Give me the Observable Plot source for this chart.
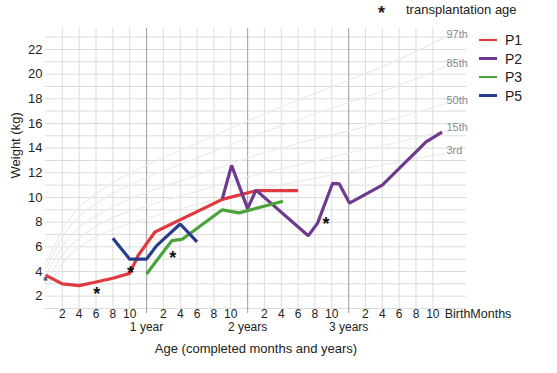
<!DOCTYPE html>
<html>
<head>
<meta charset="utf-8">
<script src="https://cdn.jsdelivr.net/npm/d3@7"></script>
<script src="https://cdn.jsdelivr.net/npm/@observablehq/plot@0.6"></script>
<style>
  html, body { margin: 0; padding: 0; background: #fff; }
  #wrap { position: relative; width: 557px; height: 373px; font-family: "Liberation Sans", Arial, sans-serif; color: #222; }
  #wrap svg { position: absolute; left: 0; top: 0; }
  .lg { position: absolute; font-size: 14px; line-height: 14px; }
  .sw { position: absolute; width: 18px; height: 2.5px; }
</style>
</head>
<body>
<div id="wrap"></div>
<script>
// ---- Data ----
const seriesNames = ["P1", "P2", "P3", "P5"];
const seriesColors = ["#e0393e", "#6d3a8e", "#4aa33a", "#283c8c"];

const p1Age = [0, 2, 4, 6, 8, 10, 11, 13, 21, 25, 30];
const p1Wt  = [3.7, 3.0, 2.85, 3.15, 3.45, 3.85, 5.3, 7.2, 9.85, 10.55, 10.55];
const p2Age = [21, 22.1, 24, 25, 31.2, 32.3, 34.1, 34.9, 36.1, 40, 45.2, 47.1];
const p2Wt  = [9.9, 12.6, 9.1, 10.6, 6.9, 7.9, 11.15, 11.1, 9.55, 11.0, 14.5, 15.3];
const p3Age = [12, 15, 16.2, 21, 23, 28.2];
const p3Wt  = [3.8, 6.5, 6.6, 9.0, 8.75, 9.7];
const p5Age = [8, 10, 12, 13.2, 16, 18];
const p5Wt  = [6.7, 5.0, 5.0, 6.1, 7.85, 6.4];

// transplantation age markers
const starAge = [6.1, 10.1, 15.1, 33.3];
const starWt  = [2.55, 4.3, 5.5, 8.2];

// starting marker
const startAge = [0];
const startWt = [3.4];

// reference percentile curves
const pctNames = ["3rd", "15th", "50th", "85th", "97th"];
const pctAge = [0, 1, 2, 4, 6, 9, 12, 18, 24, 30, 36, 42, 47.5];
const pct3   = [2.65, 3.6, 4.65, 5.95, 6.8, 7.65, 8.3, 9.45, 10.4, 11.3, 12.1, 12.9, 13.6];
const pct15  = [3.1, 4.2, 5.3, 6.7, 7.65, 8.65, 9.3, 10.5, 11.65, 12.65, 13.6, 14.5, 15.4];
const pct50  = [3.6, 4.9, 6.0, 7.6, 8.5, 9.6, 10.4, 11.8, 13.2, 14.4, 15.4, 16.5, 17.6];
const pct85  = [4.2, 5.5, 6.8, 8.5, 9.5, 10.7, 11.6, 13.2, 14.8, 16.3, 17.7, 19.1, 20.6];
const pct97  = [4.6, 6.0, 7.4, 9.2, 10.3, 11.6, 12.6, 14.4, 16.2, 17.9, 19.5, 21.2, 23.0];

// axes
const yTicks = [2, 4, 6, 8, 10, 12, 14, 16, 18, 20, 22];
const monthTicks = [2,4,6,8,10, 14,16,18,20,22, 26,28,30,32,34, 38,40,42,44,46];
const monthLabels = ["2","4","6","8","10","2","4","6","8","10","2","4","6","8","10","2","4","6","8","10"];
const yearTicks = [12, 24, 36];
const yearLabels = ["1 year", "2 years", "3 years"];
const endTick = [48];
const endLabel = ["BirthMonths"];
const xTitle = "Age (completed months and years)";
const yTitle = "Weight (kg)";
const starLegend = "transplantation age";

// ---- Build tables ----
const zipS = (name, a, w) => a.map((x, i) => ({name, age: x, wt: w[i]}));
const series = [
  ...zipS("P1", p1Age, p1Wt),
  ...zipS("P2", p2Age, p2Wt),
  ...zipS("P3", p3Age, p3Wt),
  ...zipS("P5", p5Age, p5Wt)
];
const pctVals = [pct3, pct15, pct50, pct85, pct97];
const pct = pctNames.flatMap((n, k) => pctAge.map((a, i) => ({name: n, age: a, wt: pctVals[k][i]})));
const pctEnds = pctNames.map((n, k) => ({name: n, age: pctAge[pctAge.length - 1], wt: pctVals[k][pctAge.length - 1]}));
const stars = starAge.map((a, i) => ({age: a, wt: starWt[i]}));
const minorX = d3.range(0, 50, 2).filter(m => m % 12 !== 0);
const gridY = d3.range(1, 24);

const font = "'Liberation Sans', Arial, sans-serif";

const chart = Plot.plot({
  width: 557,
  height: 373,
  marginLeft: 45,
  marginRight: 91,
  marginTop: 28,
  marginBottom: 65,
  style: {fontFamily: font, background: "transparent", overflow: "visible"},
  x: {domain: [0, 50], axis: null},
  y: {domain: [1, 23.7], axis: null},
  color: {domain: seriesNames, range: seriesColors},
  marks: [
    Plot.ruleY(gridY, {stroke: "#dcdcdc", strokeWidth: 1}),
    Plot.ruleX(minorX, {stroke: "#dcdcdc", strokeWidth: 1}),
    Plot.ruleX(yearTicks, {stroke: "#ababab", strokeWidth: 1.2, insetBottom: -5}),
    Plot.line(pct, {x: "age", y: "wt", z: "name", stroke: "#ebebeb", strokeWidth: 1.2, curve: "monotone-x"}),
    Plot.text(pctEnds, {x: "age", y: "wt", text: "name", textAnchor: "start", dx: 1, dy: -3, fill: "#8a8a8a", fontSize: 11}),
    Plot.line(series, {x: "age", y: "wt", z: "name", stroke: "name", strokeWidth: 3.2, strokeLinejoin: "miter", strokeLinecap: "butt"}),
    Plot.dot(startAge.map((a, i) => ({age: a, wt: startWt[i]})), {x: "age", y: "wt", r: 2, fill: "#5a6070", symbol: "square"}),
    Plot.text(stars, {x: "age", y: "wt", text: () => "*", fontSize: 18, fontWeight: "bold", fill: "#111", dy: 5}),
    // y tick labels
    Plot.text(yTicks, {y: d => d, frameAnchor: "left", text: d => String(d), textAnchor: "end", dx: -3, fontSize: 13, fill: "#222"}),
    // x tick labels
    Plot.text(monthTicks, {x: d => d, frameAnchor: "bottom", text: (d, i) => monthLabels[i], dy: 9, fontSize: 12, fill: "#222"}),
    Plot.text(yearTicks, {x: d => d, frameAnchor: "bottom", text: (d, i) => yearLabels[i], dy: 22, fontSize: 12, fill: "#222"}),
    Plot.text(endTick, {x: d => d, frameAnchor: "bottom", text: (d, i) => endLabel[i], textAnchor: "start", dx: -5, dy: 9, fontSize: 12.5, fill: "#222"}),
    // titles
    Plot.text([xTitle], {frameAnchor: "bottom", text: d => d, dy: 44, fontSize: 13, fill: "#222"}),
    Plot.text([yTitle], {frameAnchor: "left", text: d => d, rotate: -90, dx: -30, dy: 10, fontSize: 13, fill: "#222"})
  ]
});

const wrap = document.getElementById("wrap");
wrap.appendChild(chart);

// legend (HTML, above/right of the plot)
const star = document.createElement("div");
star.className = "lg";
star.style.left = "378px"; star.style.top = "6px";
star.style.fontSize = "18px"; star.style.fontWeight = "bold";
star.textContent = "*";
wrap.appendChild(star);
const starTxt = document.createElement("div");
starTxt.className = "lg";
starTxt.style.left = "406px"; starTxt.style.top = "3px"; starTxt.style.fontSize = "13px";
starTxt.textContent = starLegend;
wrap.appendChild(starTxt);

const legendTop = [40, 58.5, 77, 95.5];
seriesNames.forEach((n, i) => {
  const sw = document.createElement("div");
  sw.className = "sw";
  sw.style.left = "479px";
  sw.style.top = (legendTop[i] - 1.25) + "px";
  sw.style.background = seriesColors[i];
  wrap.appendChild(sw);
  const t = document.createElement("div");
  t.className = "lg";
  t.style.left = "505px";
  t.style.top = (legendTop[i] - 7) + "px";
  t.textContent = n;
  wrap.appendChild(t);
});
</script>
</body>
</html>
